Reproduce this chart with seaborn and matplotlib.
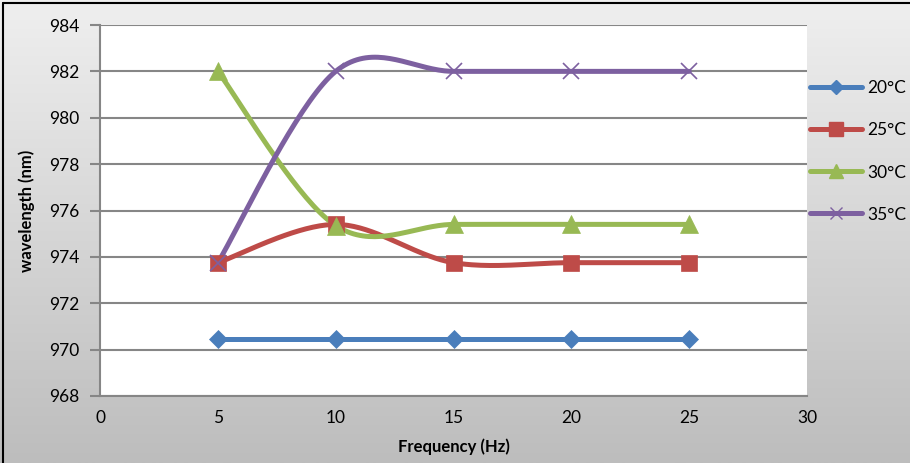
import numpy as np
import pandas as pd
import matplotlib
matplotlib.use("Agg")
import matplotlib.pyplot as plt
from matplotlib.lines import Line2D
import seaborn as sns

# ── dados ───────────────────────────────────────────────────
freq = [5, 10, 15, 20, 25]
w20 = [970.45, 970.45, 970.45, 970.45, 970.45]
w25 = [973.75, 975.4, 973.75, 973.75, 973.75]
w30 = [982.0, 975.35, 975.4, 975.4, 975.4]
w35 = [973.75, 982.0, 982.0, 982.0, 982.0]
series = ["20°C", "25°C", "30°C", "35°C"]
colors = ["#4A7EBB", "#BE4B48", "#98B954", "#7D60A0"]
markers = ["D", "s", "^", "x"]
msizes = [9, 12, 13, 11]

df = pd.DataFrame({"Frequency": freq * 4,
                   "wavelength": w20 + w25 + w30 + w35,
                   "serie": [s for s in series for _ in freq]})

sns.set_theme(style="white")
plt.rcParams["font.family"] = ["Lato", "DejaVu Sans"]
plt.rcParams["text.color"] = "black"
plt.rcParams["axes.labelcolor"] = "black"
plt.rcParams["xtick.color"] = "black"
plt.rcParams["ytick.color"] = "black"


def suaviza(x, y, n=40):
    # curva suave estilo Excel (bezier com pontos de controle 1/6)
    x = np.asarray(x, float)
    y = np.asarray(y, float)
    px = np.concatenate([[x[0]], x, [x[-1]]])
    py = np.concatenate([[y[0]], y, [y[-1]]])
    xs, ys = [], []
    t = np.linspace(0, 1, n)
    for i in range(1, len(px) - 2):
        p0 = np.array([px[i], py[i]])
        p3 = np.array([px[i + 1], py[i + 1]])
        c1 = p0 + (p3 - np.array([px[i - 1], py[i - 1]])) / 6
        c2 = p3 - (np.array([px[i + 2], py[i + 2]]) - p0) / 6
        b = ((1 - t)[:, None] ** 3 * p0 + 3 * ((1 - t) ** 2 * t)[:, None] * c1
             + 3 * ((1 - t) * t ** 2)[:, None] * c2 + (t ** 3)[:, None] * p3)
        xs.extend(b[:, 0])
        ys.extend(b[:, 1])
    return xs, ys


fig = plt.figure(figsize=(9.1, 4.63), dpi=100)

# fundo em degradê
bg = fig.add_axes([0, 0, 1, 1], zorder=-2)
grad = np.linspace(0, 1, 256)[:, None]
bg.imshow(grad, aspect="auto", cmap=matplotlib.colors.LinearSegmentedColormap.from_list(
    "g", ["#efefef", "#bdbdbd"]), extent=[0, 1, 0, 1])
bg.set_axis_off()
fig.add_artist(Line2D([0.0035, 1.0], [0.994, 0.994], color="black", lw=1.5))
fig.add_artist(Line2D([0.0035, 0.0035], [0.0, 0.994], color="black", lw=1.5))

ax = fig.add_axes([100 / 910, 1 - 396 / 463, 707 / 910, 371 / 463])
ax.set_facecolor("white")

handles = []
for s, c, m, ms in zip(series, colors, markers, msizes):
    d = df[df["serie"] == s]
    xs, ys = suaviza(d["Frequency"], d["wavelength"])
    ax.plot(xs, ys, color=c, lw=3.6, solid_capstyle="round", zorder=3)
    sns.lineplot(data=d, x="Frequency", y="wavelength", ax=ax, color=c, marker=m,
                 markersize=ms, linestyle="", markeredgecolor=c,
                 markeredgewidth=1.2 if m == "x" else 0.5, zorder=4)
    handles.append(Line2D([], [], color=c, lw=3.6, marker=m, markersize=ms * 0.8,
                          markeredgecolor=c, solid_capstyle="round"))

ax.set_xlim(0, 30)
ax.set_ylim(968, 984)
ax.set_xticks(range(0, 31, 5))
ax.set_yticks(range(968, 985, 2))
ax.yaxis.grid(True, color="#868686", lw=1.5)
ax.xaxis.grid(False)
for sp in ["top", "right"]:
    ax.spines[sp].set_visible(False)
ax.spines["left"].set_color("#868686")
ax.spines["bottom"].set_color("#868686")
ax.spines["left"].set_linewidth(1.5)
ax.spines["bottom"].set_linewidth(1.5)
ax.tick_params(axis="y", length=7, width=1.5, color="#868686", labelsize=12.5, pad=8, left=True)
ax.tick_params(axis="x", length=0, labelsize=12.5, pad=10)
ax.set_xlabel("Frequency (Hz)", fontsize=12, fontweight="bold", labelpad=9)
ax.set_ylabel("wavelength (nm)", fontsize=12, fontweight="bold", labelpad=10)

fig.legend(handles, series, loc="upper left", bbox_to_anchor=(0.881, 0.845),
           frameon=False, fontsize=12.5, handlelength=3.0, handletextpad=0.3,
           labelspacing=1.5, borderpad=0)

plt.savefig("out.png", dpi=100)
plt.close()
